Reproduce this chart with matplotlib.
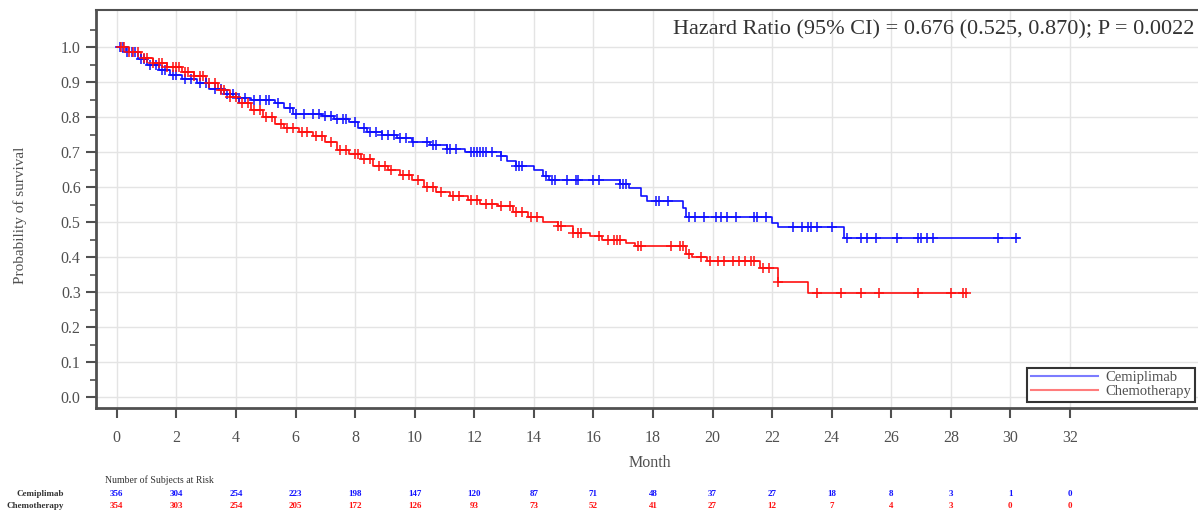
import numpy as np
import matplotlib
matplotlib.use("Agg")
import matplotlib.pyplot as plt

plt.rcParams['font.family'] = ['Liberation Serif', 'DejaVu Serif']

# Kaplan-Meier step points (month, survival)
cemi_t = [0, 0.3, 0.7, 1.0, 1.4, 1.8, 2.2, 2.7, 3.1, 3.6, 4.0, 4.5, 5.3, 5.6, 5.9,
          6.9, 7.3, 7.8, 8.1, 8.4, 8.9, 9.4, 9.9, 10.5, 11.1, 11.7, 12.9, 13.1,
          13.4, 14.0, 14.3, 14.5, 16.9, 17.2, 17.6, 17.8, 19.0, 19.1, 22.0, 22.2, 24.4]
cemi_s = [1.0, 0.985, 0.965, 0.948, 0.935, 0.92, 0.91, 0.898, 0.88, 0.865, 0.855, 0.85,
          0.84, 0.825, 0.81, 0.803, 0.795, 0.785, 0.77, 0.758, 0.75, 0.74, 0.73, 0.72,
          0.71, 0.70, 0.69, 0.675, 0.66, 0.65, 0.632, 0.62, 0.61, 0.597, 0.575, 0.56,
          0.54, 0.515, 0.497, 0.485, 0.455]
cemi_end = 30.3

chemo_t = [0, 0.4, 0.8, 1.2, 1.7, 2.2, 2.6, 3.0, 3.4, 3.8, 4.1, 4.5, 4.9, 5.3, 5.6,
           6.1, 6.6, 7.0, 7.4, 7.8, 8.2, 8.6, 9.1, 9.5, 9.9, 10.3, 10.7, 11.2, 11.8,
           12.2, 12.8, 13.3, 13.8, 14.3, 14.8, 15.3, 15.9, 16.3, 17.1, 17.4, 19.1,
           19.3, 19.8, 21.6, 22.2, 23.2]
chemo_s = [1.0, 0.985, 0.968, 0.955, 0.943, 0.93, 0.917, 0.897, 0.877, 0.857, 0.84,
           0.82, 0.80, 0.78, 0.768, 0.757, 0.745, 0.728, 0.705, 0.695, 0.68, 0.66,
           0.648, 0.635, 0.62, 0.60, 0.585, 0.575, 0.563, 0.553, 0.545, 0.53, 0.515,
           0.50, 0.49, 0.47, 0.46, 0.45, 0.44, 0.432, 0.41, 0.40, 0.39, 0.37, 0.33, 0.297]
chemo_end = 28.5

# censor times
cemi_cens = [0.1, 0.2, 0.35, 0.5, 0.6, 0.8, 0.9, 1.1, 1.3, 1.5, 1.6, 1.9, 2.0, 2.3,
             2.5, 2.8, 3.0, 3.3, 3.5, 3.7, 3.9, 4.1, 4.3, 4.6, 4.8, 5.0, 5.1, 5.4,
             5.8, 6.0, 6.3, 6.6, 6.8, 7.0, 7.2, 7.4, 7.6, 7.7, 8.0, 8.3, 8.5, 8.7,
             8.9, 9.1, 9.3, 9.5, 9.7, 9.95, 10.4, 10.6, 10.7, 11.1, 11.2, 11.4, 11.9,
             12.0, 12.1, 12.2, 12.3, 12.4, 12.6, 12.9, 13.4, 13.5, 13.6, 14.4, 14.6,
             14.7, 15.1, 15.4, 15.5, 16.0, 16.2, 16.9, 17.0, 17.1, 18.1, 18.2, 18.5,
             19.2, 19.4, 19.7, 20.1, 20.3, 20.5, 20.8, 21.4, 21.5, 21.8, 22.7, 23.0,
             23.2, 23.3, 23.5, 24.0, 24.5, 25.0, 25.2, 25.5, 26.2, 26.9, 27.0, 27.2,
             27.4, 29.6, 30.2]
chemo_cens = [0.15, 0.25, 0.4, 0.55, 0.7, 0.9, 1.0, 1.2, 1.4, 1.5, 1.7, 1.9, 2.0, 2.1,
              2.3, 2.4, 2.6, 2.8, 2.9, 3.1, 3.3, 3.5, 3.6, 3.8, 4.0, 4.2, 4.4, 4.6,
              4.8, 5.0, 5.2, 5.5, 5.7, 5.9, 6.2, 6.4, 6.7, 6.9, 7.2, 7.5, 7.7, 8.0,
              8.1, 8.3, 8.5, 8.8, 9.0, 9.2, 9.6, 9.8, 10.1, 10.4, 10.6, 10.9, 11.3,
              11.5, 11.9, 12.1, 12.4, 12.6, 12.9, 13.2, 13.4, 13.6, 13.9, 14.1, 14.8,
              14.9, 15.3, 15.5, 15.6, 16.2, 16.5, 16.7, 16.8, 16.9, 17.5, 17.6, 18.6,
              18.9, 19.0, 19.2, 19.6, 19.9, 20.2, 20.4, 20.7, 20.9, 21.1, 21.3, 21.4,
              21.7, 21.9, 22.2, 23.5, 24.3, 25.0, 25.6, 26.9, 28.0, 28.4, 28.5]

# number at risk
risk_months = list(range(0, 33, 2))
cemi_risk = [356, 304, 254, 223, 198, 147, 120, 87, 71, 48, 37, 27, 18, 8, 3, 1, 0]
chemo_risk = [354, 303, 254, 205, 172, 126, 93, 73, 52, 41, 27, 12, 7, 4, 3, 0, 0]

blue = "#1010ff"
red = "#ff1010"
grey = "#505050"

fig = plt.figure(figsize=(11.98, 5.15), dpi=100)
ax = fig.add_axes([96/1198, 107/515, 1102/1198, 398/515])


def surv_at(times, surv, pts):
    idx = np.searchsorted(times, pts, side="right") - 1
    return np.array(surv)[idx]


# curves
for t, s, end, cens, col in [(cemi_t, cemi_s, cemi_end, cemi_cens, blue),
                             (chemo_t, chemo_s, chemo_end, chemo_cens, red)]:
    tt = t + [end]
    ss = s + [s[-1]]
    ax.step(tt, ss, where="post", color=col, linewidth=1.2, zorder=3)
    ax.plot(cens, surv_at(t, s, cens), "+", color=col, markersize=6.5,
            markeredgewidth=1.1, zorder=4)

# legend handles
ax.plot([], [], color=blue, alpha=0.55, linewidth=1.5, label="Cemiplimab")
ax.plot([], [], color=red, alpha=0.55, linewidth=1.5, label="Chemotherapy")
leg = ax.legend(loc="lower right", bbox_to_anchor=(0.997, 0.015), fontsize=10.5,
                fancybox=False, framealpha=1, edgecolor="#333333",
                handlelength=4.6, borderpad=0.25, labelspacing=0.05, handletextpad=0.5,
                borderaxespad=0)
leg.get_frame().set_linewidth(1.5)
for txt in leg.get_texts():
    txt.set_color(grey)

ax.set_xlim(-0.7, 36.3)
ax.set_ylim(-0.031, 1.106)
ax.set_xticks(range(0, 33, 2))
ax.set_yticks(np.arange(0, 1.01, 0.1))
ax.set_yticks(np.arange(0.05, 1.06, 0.1), minor=True)
ax.set_yticklabels([f"{v:.1f}" for v in np.arange(0, 1.01, 0.1)])
ax.grid(True, color="#e4e4e4", linewidth=1.0, zorder=0)
ax.set_axisbelow(True)

ax.spines["right"].set_visible(False)
for side in ["left", "bottom", "top"]:
    ax.spines[side].set_color(grey)
    ax.spines[side].set_linewidth(2.0)
ax.spines["top"].set_linewidth(1.5)

ax.tick_params(axis="y", which="major", length=7, width=1.5, color=grey,
               labelsize=11.5, labelcolor=grey, pad=4)
ax.tick_params(axis="y", which="minor", length=4, width=1.2, color=grey)
ax.tick_params(axis="x", which="major", length=7, width=1.5, color=grey,
               labelsize=11.5, labelcolor=grey, pad=9)

ax.set_xlabel("Month", fontsize=11.5, color=grey)
ax.xaxis.set_label_coords(0.503, -0.118)
ax.set_ylabel("Probability of survival", fontsize=11, color=grey)
ax.yaxis.set_label_coords(-0.063, 0.485)

ax.text(0.997, 0.95, "Hazard Ratio (95% CI) = 0.676 (0.525, 0.870); P = 0.0022",
        transform=ax.transAxes, ha="right", va="center", fontsize=16, color="#333333")

# number at risk table
ax.text((105-96)/1102, -0.181, "Number of Subjects at Risk",
        transform=ax.transAxes, ha="left", va="center", fontsize=7, color="#333333")
ax.text(-0.029, -0.216, "Cemiplimab", transform=ax.transAxes, ha="right",
        va="center", fontsize=6.5, fontweight="bold", color="#333333")
ax.text(-0.029, -0.246, "Chemotherapy", transform=ax.transAxes, ha="right",
        va="center", fontsize=6.5, fontweight="bold", color="#333333")
trans = ax.get_xaxis_transform()
for m, a, b in zip(risk_months, cemi_risk, chemo_risk):
    ax.text(m, -0.216, str(a), transform=trans, ha="center", va="center",
            fontsize=6.5, fontweight="bold", color=blue, clip_on=False)
    ax.text(m, -0.246, str(b), transform=trans, ha="center", va="center",
            fontsize=6.5, fontweight="bold", color=red, clip_on=False)

fig.savefig("out.png", dpi=100)
